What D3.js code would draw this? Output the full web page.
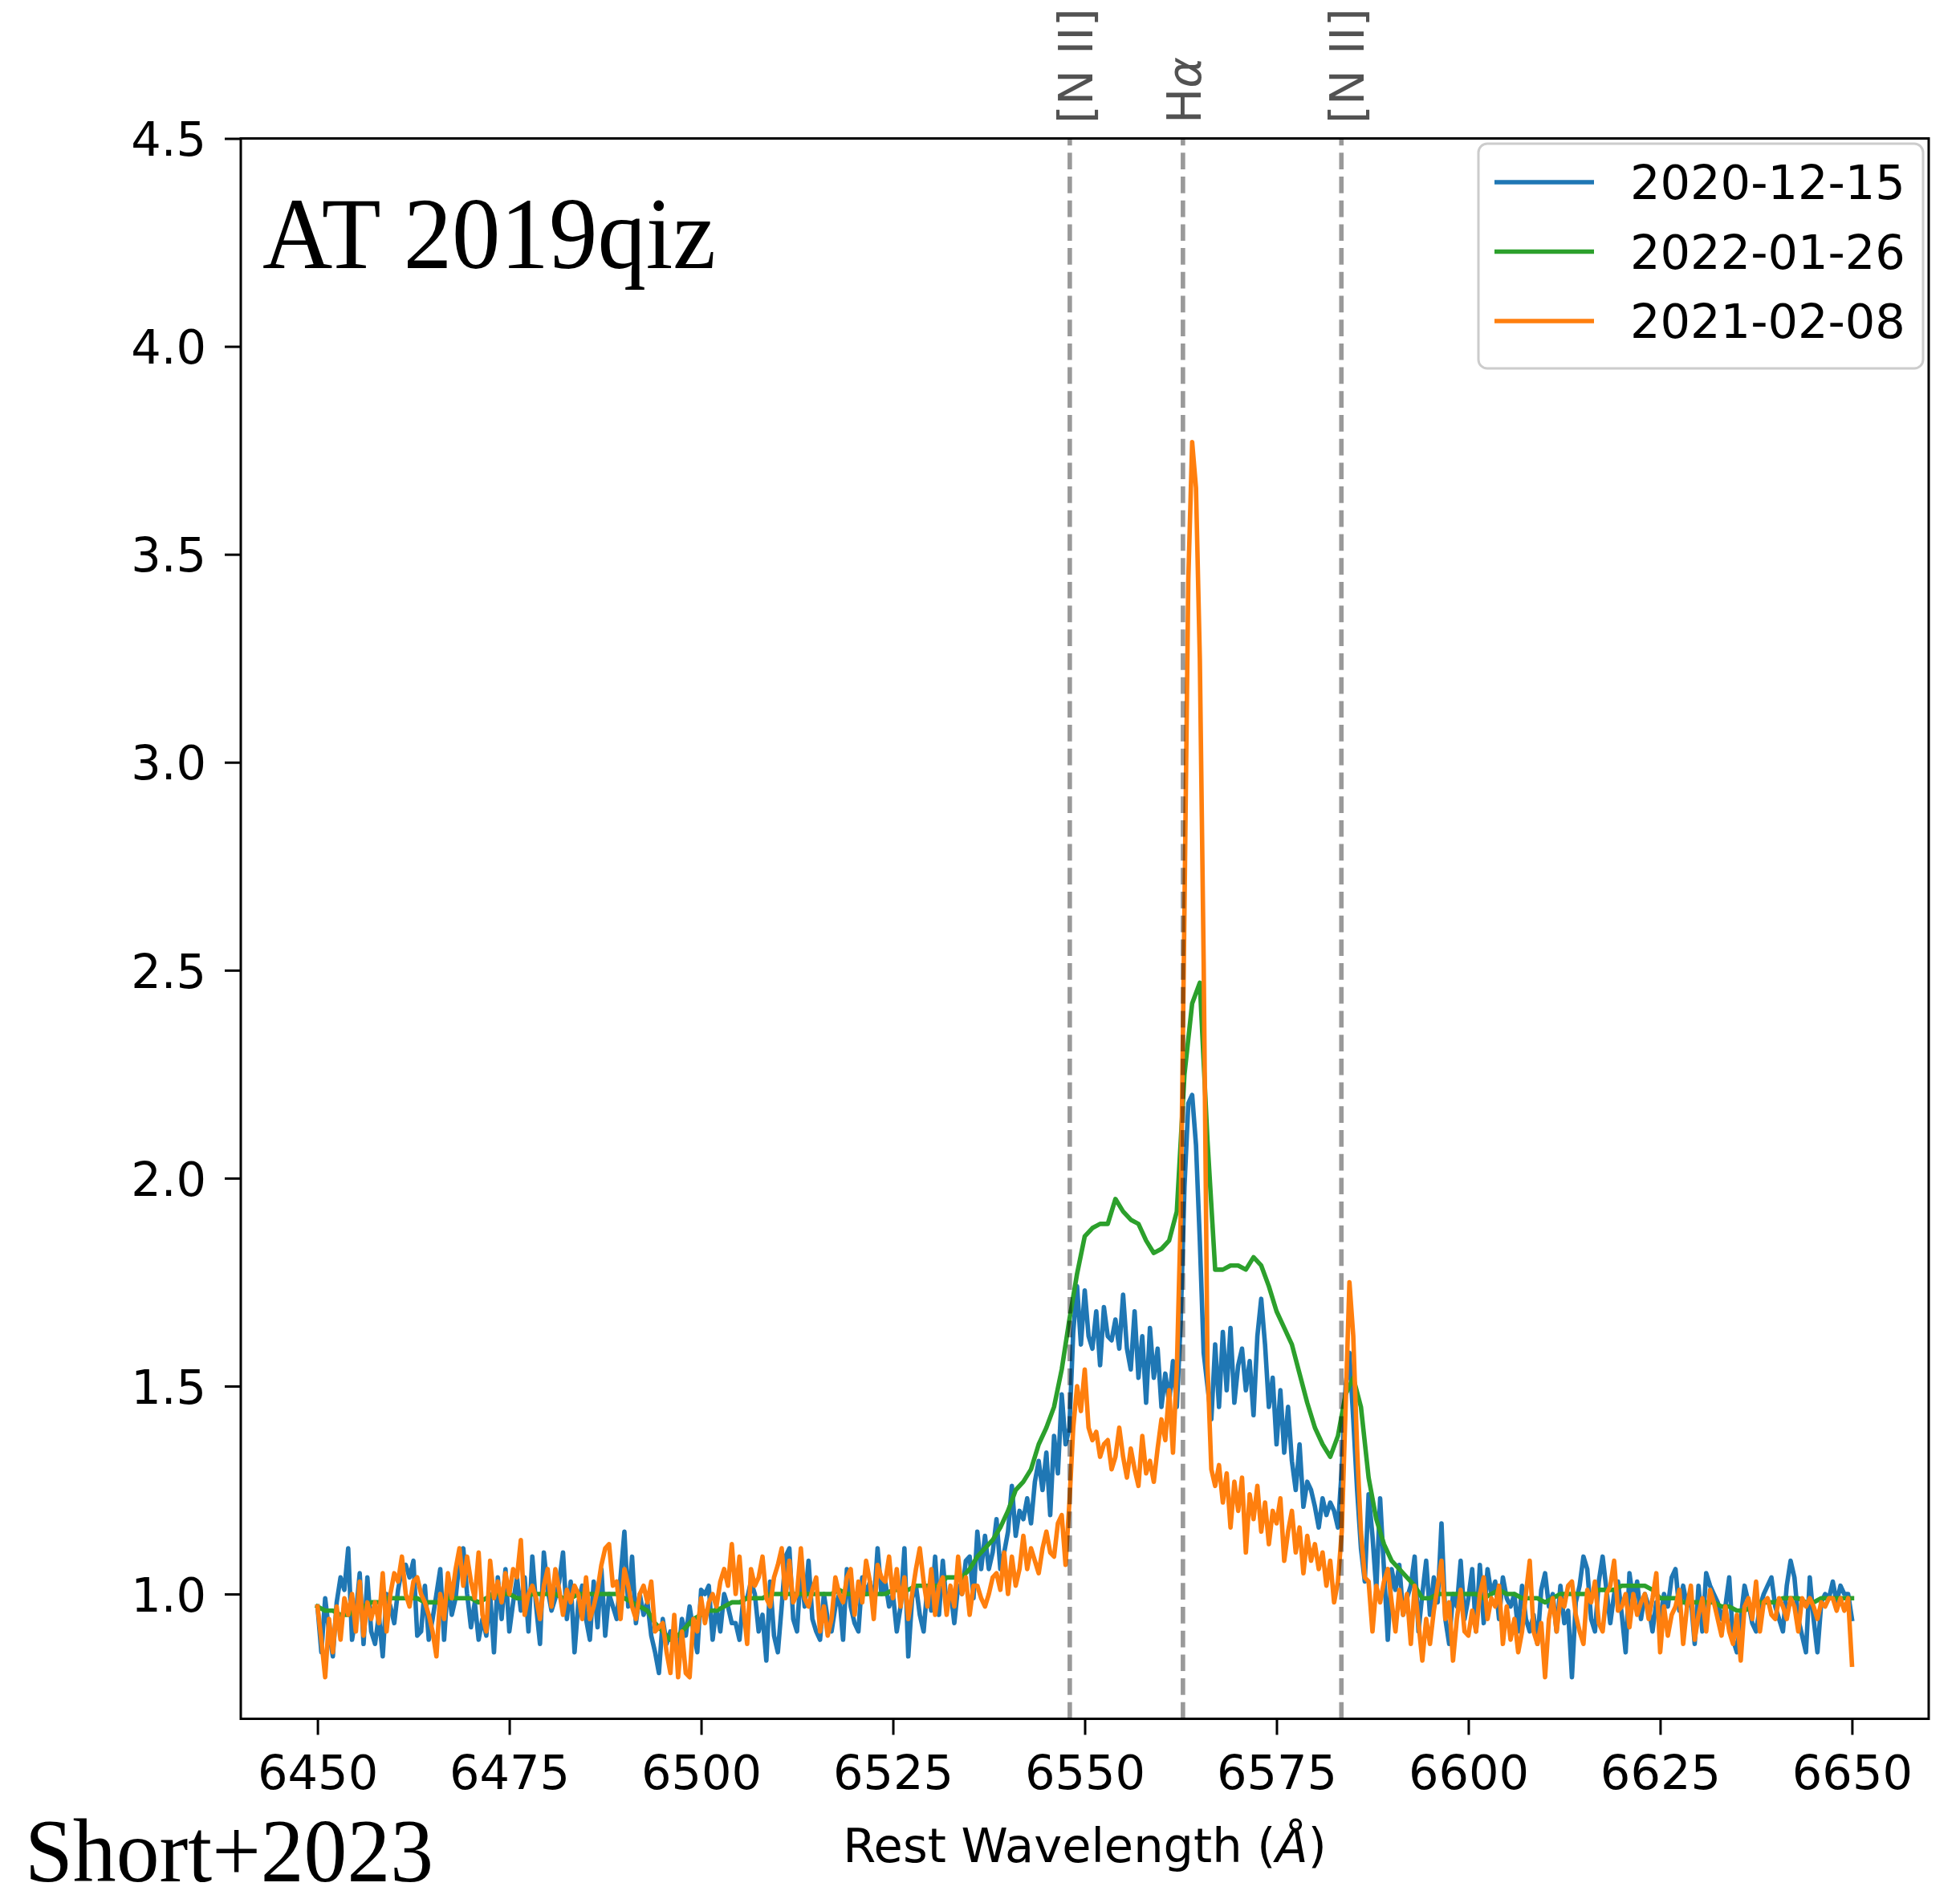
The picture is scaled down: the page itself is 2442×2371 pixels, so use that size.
<!DOCTYPE html>
<html>
<head>
<meta charset="utf-8">
<script src="https://cdn.jsdelivr.net/npm/d3@7"></script>
<style>
  body { margin: 0; background: #fff; }
  svg { display: block; }
</style>
</head>
<body>
<div id="chart"></div>
<script>
const width = 2442, height = 2371;
const margin = {left: 300, right: 2442 - 2403, top: 172.5, bottom: 2371 - 2141.5};
const font_ticks = 59, line_w = 5.6;

// wavelength grid of the two noisy spectra (start, step in Angstrom)
const lam_start = 6450, lam_step = 0.5, green_step = 1;

// 2020-12-15, one line = 5 A
const blue_flux = [
  0.97,0.86,0.99,0.91,0.85,0.98,1.04,1.01,1.11,0.89,
  0.95,1.05,0.88,1.04,0.91,0.88,0.95,0.85,1.00,0.97,
  0.93,1.01,1.06,1.07,1.04,1.08,0.90,0.91,1.02,0.89,
  0.94,1.00,1.06,0.89,1.03,0.95,0.99,1.08,1.11,1.00,
  0.92,0.98,0.89,0.94,0.90,1.00,0.86,1.04,0.94,1.06,
  0.91,0.98,1.04,0.96,1.04,0.91,1.09,0.97,0.88,1.10,
  1.01,0.96,0.99,1.03,1.10,0.94,1.03,0.86,0.98,1.02,
  0.94,0.89,1.03,0.92,1.06,0.90,1.00,0.97,0.94,1.04,
  1.15,0.97,1.09,0.93,1.00,0.95,0.98,0.90,0.86,0.81,
  0.94,0.88,0.91,0.89,0.85,0.94,0.90,0.97,0.91,0.86,
  1.01,1.00,1.02,0.89,0.97,0.91,1.00,0.97,0.93,0.93,
  0.89,0.99,0.99,1.03,1.00,0.91,0.95,0.84,1.03,0.90,
  0.86,0.97,1.09,1.11,0.94,0.91,1.06,0.97,1.08,0.94,
  0.91,0.89,1.00,0.94,0.91,0.97,1.00,0.89,1.06,0.97,
  0.93,0.91,1.04,1.00,1.03,0.97,1.11,1.00,1.03,0.97,
  1.00,0.91,0.97,1.11,0.85,0.99,1.02,0.95,0.91,1.02,
  0.96,1.09,0.95,1.08,0.97,1.01,0.93,1.02,1.00,1.08,
  1.09,0.99,1.15,1.06,1.14,1.06,1.10,1.18,1.06,1.10,
  1.15,1.26,1.14,1.20,1.18,1.23,1.17,1.27,1.32,1.25,
  1.34,1.19,1.38,1.29,1.48,1.36,1.40,1.63,1.74,1.60,
  1.73,1.62,1.59,1.68,1.55,1.69,1.62,1.61,1.66,1.59,
  1.72,1.59,1.54,1.68,1.52,1.62,1.46,1.64,1.52,1.59,
  1.45,1.53,1.46,1.56,1.45,1.65,1.98,2.18,2.20,2.08,
  1.85,1.58,1.50,1.42,1.60,1.45,1.63,1.49,1.64,1.46,
  1.55,1.59,1.49,1.56,1.43,1.62,1.71,1.60,1.45,1.52,
  1.36,1.49,1.34,1.45,1.32,1.25,1.36,1.21,1.27,1.25,
  1.21,1.16,1.23,1.19,1.22,1.20,1.16,1.30,1.50,1.58,
  1.42,1.25,1.11,1.03,1.24,1.14,1.01,1.23,1.06,0.89,
  1.06,1.01,1.07,0.95,0.99,1.02,1.09,0.91,1.00,1.08,
  0.95,1.04,0.98,1.17,0.94,0.88,1.00,0.97,1.08,0.94,
  0.99,1.06,0.91,1.07,0.93,1.06,1.00,1.03,0.94,1.04,
  0.99,0.97,1.00,0.91,1.02,0.94,0.91,0.95,0.88,1.01,
  1.05,0.97,1.00,0.91,1.02,0.93,0.96,0.80,0.98,1.02,
  1.09,1.06,0.94,0.91,1.03,1.09,1.01,0.93,1.00,1.03,
  0.95,0.86,1.05,0.98,1.03,0.94,1.00,0.97,0.91,0.98,
  0.94,1.00,0.97,1.04,1.06,0.96,1.02,0.97,0.99,0.88,
  1.02,0.91,1.05,1.02,1.00,0.98,0.94,0.97,1.04,0.89,
  0.86,0.94,1.02,0.98,0.93,0.91,0.97,1.00,1.02,1.04,
  0.97,0.94,0.91,1.02,1.08,1.04,0.94,0.90,0.86,1.04,
  0.94,0.86,0.98,1.00,0.99,1.03,0.98,1.02,1.00,1.00,
  0.94
];

// 2021-02-08, one line = 5 A
const orange_flux = [
  0.97,0.89,0.80,0.94,0.86,0.97,0.89,0.99,0.95,1.00,
  0.91,1.03,0.90,0.98,0.94,0.98,0.93,1.05,0.91,1.00,
  1.05,1.03,1.09,1.00,0.97,1.03,1.04,1.00,0.98,0.95,
  0.91,0.85,1.00,0.94,1.05,0.99,1.06,1.11,1.02,1.09,
  1.03,0.99,1.10,0.95,0.91,1.08,0.99,1.03,0.98,1.05,
  1.00,1.06,1.04,1.13,0.95,1.00,1.02,0.99,0.94,1.02,
  1.06,0.97,1.06,1.01,0.95,1.01,0.98,1.02,1.00,0.94,
  1.04,0.94,0.97,1.01,1.07,1.11,1.12,1.02,1.03,0.94,
  1.06,1.02,0.97,0.94,1.00,1.02,0.98,1.03,0.91,0.92,
  0.93,0.86,0.81,0.95,0.80,0.91,0.81,0.80,0.94,0.91,
  0.99,0.93,0.98,1.00,0.97,1.03,1.06,1.02,1.12,1.00,
  1.09,0.97,0.88,1.06,1.02,1.04,1.09,0.99,0.97,1.04,
  1.07,1.11,0.99,1.08,0.98,1.00,1.11,0.99,0.97,1.01,
  1.04,0.91,0.97,0.90,0.94,1.04,1.00,0.98,1.04,1.06,
  0.95,1.03,0.98,1.08,1.03,0.94,1.07,1.04,1.03,1.09,
  0.99,1.06,0.97,1.04,0.94,1.00,1.06,1.11,1.03,0.97,
  1.06,0.95,1.02,1.04,0.95,1.02,0.97,1.09,1.00,1.04,
  0.95,1.02,1.02,0.99,0.97,1.00,1.04,1.05,1.01,1.10,
  1.00,1.09,1.02,1.06,1.14,1.06,1.11,1.08,1.05,1.11,
  1.15,1.10,1.09,1.17,1.19,1.07,1.22,1.40,1.50,1.44,
  1.54,1.40,1.37,1.39,1.33,1.36,1.37,1.30,1.33,1.40,
  1.33,1.28,1.35,1.30,1.26,1.38,1.29,1.32,1.27,1.35,
  1.42,1.37,1.49,1.34,1.54,1.90,2.65,3.44,3.77,3.66,
  3.25,2.52,1.55,1.30,1.26,1.31,1.22,1.29,1.16,1.27,
  1.20,1.28,1.10,1.24,1.18,1.26,1.15,1.22,1.12,1.20,
  1.17,1.23,1.08,1.15,1.20,1.10,1.16,1.05,1.14,1.08,
  1.12,1.06,1.10,1.02,1.08,0.98,1.03,1.15,1.45,1.75,
  1.62,1.35,1.15,1.04,1.03,0.91,1.02,0.98,1.03,1.06,
  0.98,0.91,1.01,0.95,1.00,0.88,1.02,0.93,0.84,0.94,
  0.88,0.96,1.02,1.08,0.94,0.98,0.84,0.94,1.01,0.91,
  0.90,0.96,0.91,1.00,1.04,0.94,0.99,0.97,1.02,0.88,
  0.97,0.89,0.94,0.86,0.91,1.00,1.08,0.91,0.88,0.93,
  0.80,0.94,0.99,0.91,0.99,0.97,1.02,1.03,0.95,0.91,
  0.88,1.01,0.98,1.03,0.93,0.91,1.00,1.02,1.08,0.96,
  0.97,1.00,0.92,1.00,0.95,0.98,1.00,0.94,0.99,1.05,
  0.86,0.97,0.90,0.95,0.97,1.01,0.88,0.97,1.02,0.89,
  0.95,0.99,0.91,1.01,0.98,0.94,0.90,0.97,0.91,0.88,
  0.95,0.84,0.97,0.99,0.94,1.03,0.91,0.98,0.99,0.95,
  0.94,0.99,0.97,0.94,0.99,0.97,0.91,0.99,0.97,0.99,
  0.97,0.94,0.98,0.97,0.99,0.99,0.96,0.99,0.96,0.99,
  0.83
];

// 2022-01-26, lower resolution, one line = 10 A
const green_flux = [
  0.97,0.96,0.96,0.95,0.95,0.96,0.97,0.98,0.98,0.99,
  0.99,0.99,0.99,0.99,0.98,0.98,0.98,0.99,0.99,0.99,
  0.99,0.98,0.99,1.00,1.00,1.00,0.99,0.99,1.00,1.00,
  1.00,1.00,0.99,0.99,1.00,1.00,1.00,1.00,1.00,1.00,
  0.99,0.98,0.97,0.96,0.93,0.91,0.89,0.90,0.92,0.94,
  0.95,0.96,0.96,0.97,0.98,0.98,0.99,0.99,0.99,1.00,
  1.00,1.00,1.00,1.00,1.00,1.00,1.00,1.00,1.01,1.00,
  1.00,1.00,1.00,1.00,1.00,1.01,1.01,1.01,1.02,1.02,
  1.02,1.02,1.04,1.04,1.04,1.06,1.09,1.11,1.13,1.16,
  1.20,1.25,1.27,1.30,1.36,1.40,1.45,1.54,1.66,1.77,
  1.86,1.88,1.89,1.89,1.95,1.92,1.90,1.89,1.85,1.82,
  1.83,1.85,1.92,2.25,2.42,2.47,2.09,1.78,1.78,1.79,
  1.79,1.78,1.81,1.79,1.74,1.68,1.64,1.60,1.53,1.46,
  1.40,1.36,1.33,1.38,1.48,1.52,1.45,1.28,1.18,1.12,
  1.08,1.06,1.04,1.02,0.99,0.99,1.00,1.00,1.00,1.00,
  1.00,1.00,0.99,1.00,1.01,1.00,1.00,0.99,0.99,0.99,
  0.98,0.99,1.00,1.00,1.00,1.00,1.00,1.01,1.01,1.01,
  1.02,1.02,1.02,1.02,1.01,0.99,0.99,0.99,0.98,0.98,
  0.98,0.98,0.98,0.97,0.97,0.96,0.96,0.97,0.98,0.98,
  0.98,0.99,0.99,0.99,0.98,0.98,0.99,0.99,0.99,0.99,
  0.99
];

// plot order = legend order
const series_names = ["2020-12-15", "2022-01-26", "2021-02-08"];
const series_colors = ["#1f77b4", "#2ca02c", "#ff7f0e"];
const series_flux = [blue_flux, green_flux, orange_flux];
const series_step = [lam_step, green_step, lam_step];

const line_names = ["[N II]", "H", "[N II]"];
const line_waves = [6548.05, 6562.8, 6583.45];

const x_ticks = [6450, 6475, 6500, 6525, 6550, 6575, 6600, 6625, 6650];
const y_ticks = [1.0, 1.5, 2.0, 2.5, 3.0, 3.5, 4.0, 4.5];

const svg = d3.select("#chart").append("svg")
    .attr("width", width)
    .attr("height", height)
    .style("background", "#fff");

const x = d3.scaleLinear().domain([6440, 6660]).range([margin.left, width - margin.right]);
const y = d3.scaleLinear().domain([0.7, 4.5]).range([height - margin.bottom, margin.top]);

// spectra
const plot = svg.append("g");
series_flux.forEach((flux, s) => {
    const line = d3.line()
        .x((d, i) => x(lam_start + i * series_step[s]))
        .y(d => y(d));
    plot.append("path")
        .datum(flux)
        .attr("fill", "none")
        .attr("stroke", series_colors[s])
        .attr("stroke-width", line_w)
        .attr("stroke-linejoin", "round")
        .attr("stroke-linecap", "square")
        .attr("d", line);
});

// emission line markers, dashes start at the bottom like axvline
const marks = svg.append("g");
line_waves.forEach((w, i) => {
    marks.append("path")
        .attr("d", `M${x(w)},${y(0.7)}V${y(4.5)}`)
        .attr("stroke", "#000")
        .attr("stroke-opacity", 0.4)
        .attr("stroke-width", line_w)
        .attr("stroke-dasharray", "20.7,9");

    const off = line_names[i] === "H" ? 22 : 28;
    const t = marks.append("text")
        .attr("transform", `translate(${x(w) + off},154) rotate(-90)`)
        .attr("font-family", "DejaVu Sans")
        .attr("font-size", font_ticks)
        .attr("fill", "#000")
        .attr("fill-opacity", 0.68)
        .text(line_names[i]);
    if (line_names[i] === "H") t.append("tspan").attr("font-style", "italic").text("α");
});

// axes
const xAxis = svg.append("g")
    .attr("transform", `translate(0,${height - margin.bottom})`)
    .call(d3.axisBottom(x).tickValues(x_ticks).tickSize(20).tickPadding(26).tickFormat(d3.format("d")));
const yAxis = svg.append("g")
    .attr("transform", `translate(${margin.left},0)`)
    .call(d3.axisLeft(y).tickValues(y_ticks).tickSize(20).tickPadding(23).tickFormat(d3.format(".1f")));

[xAxis, yAxis].forEach(a => {
    a.select(".domain").remove();
    a.selectAll(".tick line").attr("stroke", "#000").attr("stroke-width", 3);
    a.selectAll(".tick text")
        .attr("font-family", "DejaVu Sans")
        .attr("font-size", font_ticks)
        .attr("fill", "#000");
});
yAxis.selectAll(".tick text").attr("dy", "0.36em");

svg.append("rect")
    .attr("x", margin.left)
    .attr("y", margin.top)
    .attr("width", width - margin.left - margin.right)
    .attr("height", height - margin.top - margin.bottom)
    .attr("fill", "none")
    .attr("stroke", "#000")
    .attr("stroke-width", 3);

// x label
const xl = svg.append("text")
    .attr("x", (margin.left + width - margin.right) / 2)
    .attr("y", 2320)
    .attr("text-anchor", "middle")
    .attr("font-family", "DejaVu Sans")
    .attr("font-size", font_ticks)
    .attr("fill", "#000")
    .text("Rest Wavelength (");
xl.append("tspan").attr("font-style", "italic").text("Å");
xl.append("tspan").text(")");

// legend
const leg = svg.append("g");
leg.append("rect")
    .attr("x", 1842).attr("y", 179)
    .attr("width", 554).attr("height", 280)
    .attr("rx", 11)
    .attr("fill", "#fff").attr("fill-opacity", 0.8)
    .attr("stroke", "#cccccc").attr("stroke-width", 3);
series_names.forEach((name, i) => {
    const ry = 227 + i * 86.5;
    leg.append("line")
        .attr("x1", 1862).attr("x2", 1986)
        .attr("y1", ry).attr("y2", ry)
        .attr("stroke", series_colors[i])
        .attr("stroke-width", line_w);
    leg.append("text")
        .attr("x", 2031).attr("y", ry)
        .attr("dy", "0.36em")
        .attr("font-family", "DejaVu Sans")
        .attr("font-size", font_ticks)
        .attr("fill", "#000")
        .text(name);
});

// object name and reference
svg.append("text")
    .attr("x", 327).attr("y", 334)
    .attr("font-family", "Liberation Serif")
    .attr("font-size", 128)
    .attr("textLength", 565)
    .attr("lengthAdjust", "spacingAndGlyphs")
    .attr("fill", "#000")
    .text("AT 2019qiz");

svg.append("text")
    .attr("x", 31).attr("y", 2344)
    .attr("font-family", "Liberation Serif")
    .attr("font-size", 112)
    .attr("textLength", 509)
    .attr("lengthAdjust", "spacingAndGlyphs")
    .attr("fill", "#000")
    .text("Short+2023");
</script>
</body>
</html>
